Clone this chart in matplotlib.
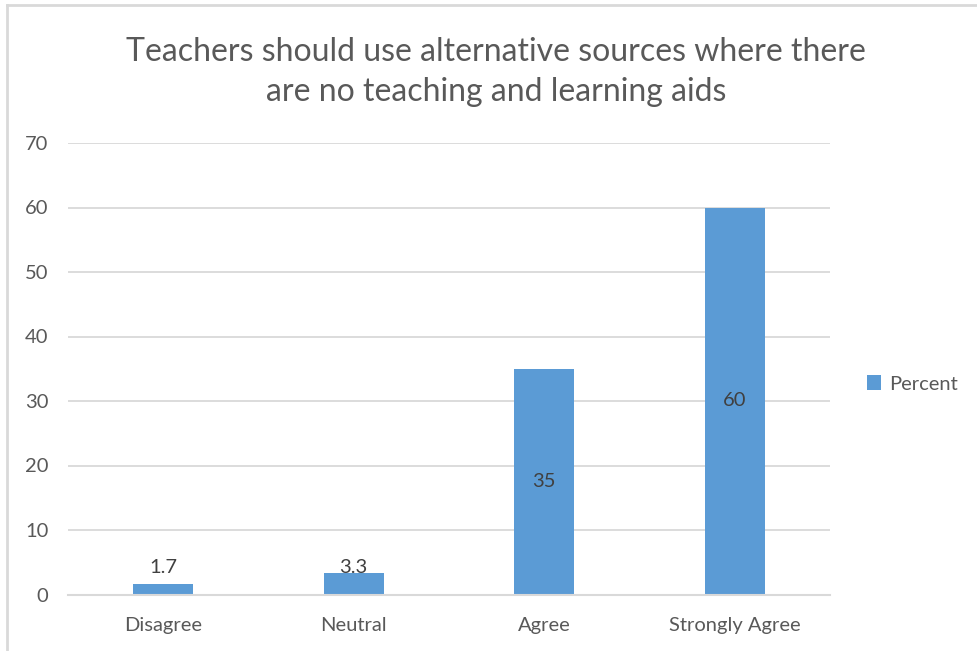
import matplotlib
matplotlib.use("Agg")
import matplotlib.pyplot as plt
from matplotlib.lines import Line2D
from matplotlib.patches import Patch

categories = ["Disagree", "Neutral", "Agree", "Strongly Agree"]
percent = [1.7, 3.3, 35, 60]
value_labels = ["1.7", "3.3", "35", "60"]
y_ticks = [0, 10, 20, 30, 40, 50, 60, 70]
series_name = "Percent"
title = "Teachers should use alternative sources where there\nare no teaching and learning aids"

BAR = "#5B9BD5"
TEXT = "#595959"
GRID = "#D9D9D9"

plt.rcParams["font.family"] = ["Lato", "DejaVu Sans"]

W, H = 977, 651
fig = plt.figure(figsize=(W / 100, H / 100), dpi=100)
fig.patch.set_facecolor("white")

ax = fig.add_axes([68 / W, 1 - 594.5 / H, (830 - 68) / W, (594.5 - 143) / H])
x = list(range(len(categories)))
ax.bar(x, percent, width=0.315, color=BAR, zorder=3)
ax.set_xlim(-0.5, len(categories) - 0.5)
ax.set_ylim(0, 70)
ax.set_yticks(y_ticks)
ax.set_xticks(x)
ax.set_xticklabels(categories)
ax.tick_params(axis="both", length=0, labelsize=14.5, colors=TEXT)
ax.tick_params(axis="y", pad=14)
ax.tick_params(axis="x", pad=16.5)
ax.yaxis.grid(True, color=GRID, linewidth=1.3, zorder=0)
for s in ["top", "right", "left"]:
    ax.spines[s].set_visible(False)
ax.spines["bottom"].set_color(GRID)
ax.spines["bottom"].set_linewidth(1.5)
ax.spines["bottom"].set_zorder(4)

for xi, v, lab in zip(x, percent, value_labels):
    ax.text(xi, max(v / 2, 4.2), lab, ha="center", va="center",
            fontsize=14.5, color="#404040", zorder=5)

fig.text(496 / W, 1 - 72 / H, title, ha="center", va="center",
         fontsize=23, color=TEXT, linespacing=1.42)

fig.legend(handles=[Patch(facecolor=BAR, label=series_name)],
           loc="center left", bbox_to_anchor=(849 / W, 1 - 384 / H),
           frameon=False, fontsize=14.5, handlelength=0.7, handleheight=0.7,
           handletextpad=0.4, labelcolor=TEXT)

# chart frame
fig.add_artist(Line2D([7 / W, 7 / W], [0, 1 - 4.5 / H], transform=fig.transFigure,
                      color=GRID, linewidth=2))
fig.add_artist(Line2D([7 / W, 1], [1 - 4.5 / H, 1 - 4.5 / H], transform=fig.transFigure,
                      color=GRID, linewidth=2))

fig.savefig("out.png", dpi=100)
